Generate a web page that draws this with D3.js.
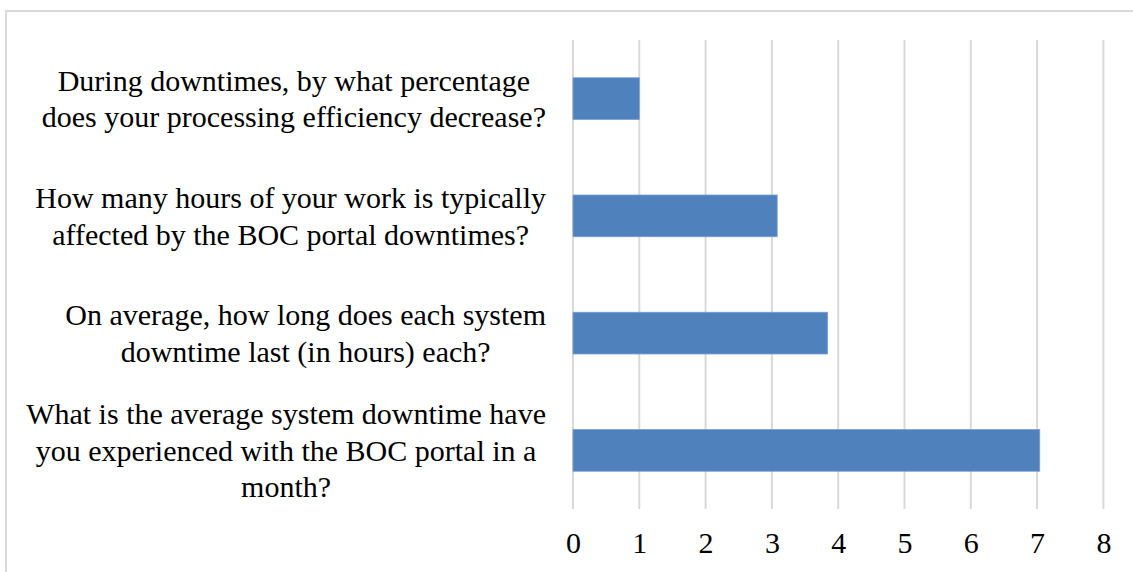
<!DOCTYPE html>
<html>
<head>
<meta charset="utf-8">
<script src="https://cdn.jsdelivr.net/npm/d3@7"></script>
<style>
  html, body { margin: 0; padding: 0; background: #fff; }
  svg { display: block; }
  text { font-family: "Liberation Serif", "DejaVu Serif", serif; fill: #000; }
</style>
</head>
<body>
<svg id="chart" width="1133" height="572"></svg>
<script>
// Survey questions, top to bottom, each split into its display lines
const questions = [
  ["During downtimes, by what percentage", "does your processing efficiency decrease?"],
  ["How many hours of your work is typically", "affected by the BOC portal downtimes?"],
  ["On average, how long does each system", "downtime last (in hours) each?"],
  ["What is the average system downtime have", "you experienced with the BOC portal in a", "month?"]
];
// Average answer per question
const averages = [1.0, 3.08, 3.84, 7.04];
// Axis ticks
const tickValues = [0, 1, 2, 3, 4, 5, 6, 7, 8];

const W = 1133, H = 572;
const plot = { left: 573, right: 1103.4, top: 40, bottom: 509 };
const fontSize = 30;
const lineGap = 36.5;
const labelRight = 546;

const svg = d3.select("#chart");

// Chart area frame
svg.append("rect")
  .attr("x", 6).attr("y", 11)
  .attr("width", W + 20).attr("height", H + 20)
  .attr("fill", "#fff")
  .attr("stroke", "#d9d9d9").attr("stroke-width", 2);

const x = d3.scaleLinear().domain([0, 8]).range([plot.left, plot.right]);
const y = d3.scaleBand()
  .domain(d3.range(questions.length))
  .range([plot.top, plot.bottom])
  .paddingInner(0.644)
  .paddingOuter(0.322);

// Vertical gridlines
svg.append("g")
  .selectAll("line")
  .data(tickValues)
  .join("line")
  .attr("x1", d => x(d)).attr("x2", d => x(d))
  .attr("y1", plot.top).attr("y2", plot.bottom)
  .attr("stroke", "#d9d9d9").attr("stroke-width", 2);

// Bars
svg.append("g")
  .selectAll("rect")
  .data(averages)
  .join("rect")
  .attr("x", x(0))
  .attr("y", (d, i) => y(i))
  .attr("width", d => x(d) - x(0))
  .attr("height", y.bandwidth())
  .attr("fill", "#4f81bd")
  .attr("stroke", "#7a9fd0").attr("stroke-width", 0.8);

// X axis labels
const xAxis = d3.axisBottom(x).tickValues(tickValues).tickSize(0).tickPadding(0).tickFormat(d3.format("d"));
const gx = svg.append("g")
  .attr("transform", `translate(0,${plot.bottom})`)
  .call(xAxis);
gx.select(".domain").remove();
gx.selectAll("text")
  .attr("font-family", "Liberation Serif, DejaVu Serif, serif")
  .attr("font-size", fontSize)
  .attr("fill", "#000")
  .attr("y", 0)
  .attr("dy", "1.48em");

// Category labels: block right-aligned beside the axis, lines centred within the block
const labels = svg.append("g");
questions.forEach((lines, i) => {
  const cy = y(i) + y.bandwidth() / 2;
  const g = labels.append("g");
  const texts = lines.map((ln, k) =>
    g.append("text")
      .attr("font-size", fontSize)
      .attr("text-anchor", "middle")
      .attr("y", cy + (k - (lines.length - 1) / 2) * lineGap)
      .attr("dy", "0.35em")
      .text(ln)
  );
  const maxW = d3.max(texts, t => t.node().getComputedTextLength());
  texts.forEach(t => t.attr("x", labelRight - maxW / 2));
});
</script>
</body>
</html>
